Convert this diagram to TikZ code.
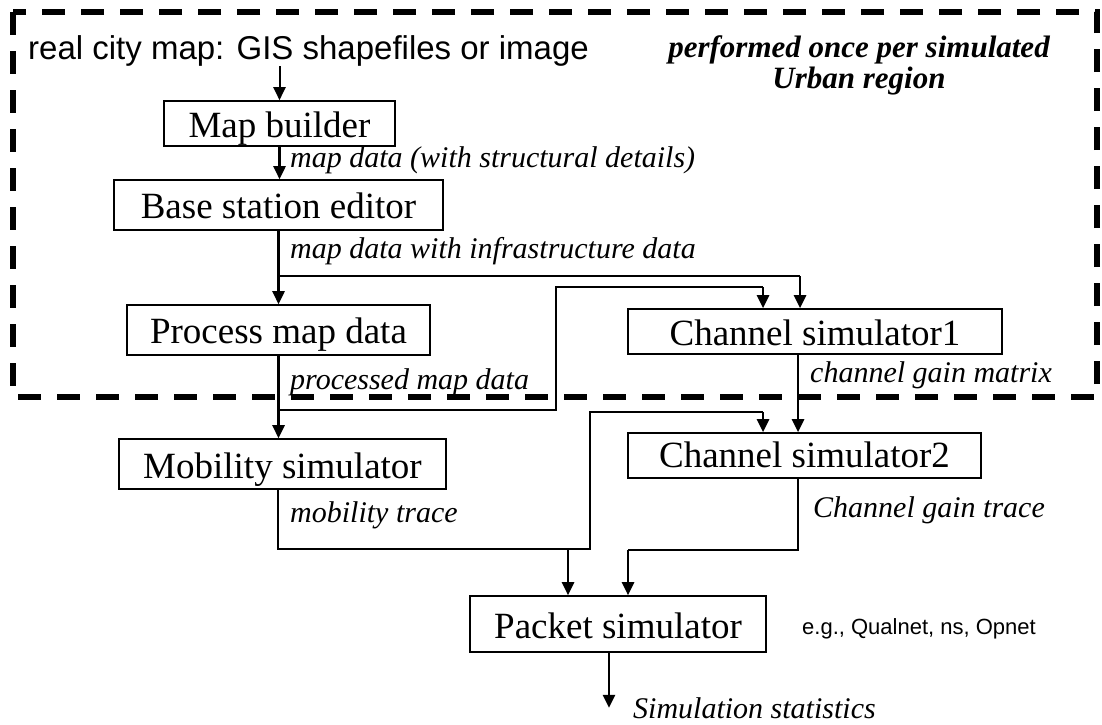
\documentclass[tikz,border=0pt]{standalone}
\usepackage{fontspec}
\setmainfont{Liberation Serif}
\newfontfamily\arialfont{Liberation Sans}
\usetikzlibrary{positioning,arrows.meta}

\begin{document}
\begin{tikzpicture}[
    x=1pt, y=-1pt,
    box/.style={draw, line width=1.6pt, inner sep=0pt, font=\fontsize{37}{40}\selectfont},
    lbl/.style={anchor=base west, inner sep=0pt, font=\fontsize{30}{32}\selectfont\itshape},
    flow/.style={-{Triangle[length=13pt,width=12pt]}, line width=2.6pt},
    feed/.style={line width=1.3pt},
    region/.style={line width=6pt, dash pattern=on 23pt off 16pt}
]
    \useasboundingbox (0,0) rectangle (1102,724);

    % Region done once per city
    \draw[region] (13,12) rectangle (1097,397);
    \node[anchor=base, inner sep=0pt, align=center, font=\fontsize{31}{31}\selectfont\bfseries\itshape] (once) at (859,88) {performed once per simulated\\Urban region};

    % Input
    \node[anchor=base west, inner sep=0pt, font=\arialfont\fontsize{33}{36}\selectfont] (city) at (28,59) {real city map: GIS shapefiles or image};

    % Boxes
    \node[box, minimum width=231pt, minimum height=45pt, text height=36pt, text depth=9pt] (mapb) at (279.5,123.5) {Map builder};
    \node[box, minimum width=329pt, minimum height=50pt, text height=38pt, text depth=12pt] (base) at (278.5,205) {Base station editor};
    \node[box, minimum width=303pt, minimum height=50pt, text height=38pt, text depth=12pt] (proc) at (278.5,330) {Process map data};
    \node[box, minimum width=327pt, minimum height=50pt, text height=39pt, text depth=11pt] (mob) at (282.5,464) {Mobility simulator};
    \node[box, minimum width=374pt, minimum height=45pt, text height=36pt, text depth=9pt] (ch1) at (815,331.5) {Channel simulator1};
    \node[box, minimum width=353pt, minimum height=45pt, text height=34pt, text depth=11pt] (ch2) at (804.5,455.5) {Channel simulator2};
    \node[box, minimum width=296pt, minimum height=56pt, text height=42pt, text depth=14pt] (pkt) at (618,624) {Packet simulator};
    \node[anchor=base west, inner sep=0pt, font=\arialfont\fontsize{22}{24}\selectfont] (eg) at (802,634) {e.g., Qualnet, ns, Opnet};

    % Data labels
    \node[lbl] (l1) at (290,167) {map data (with structural details)};
    \node[lbl] (l2) at (290,258) {map data with infrastructure data};
    \node[lbl] (l3) at (290,389) {processed map data};
    \node[lbl] (l4) at (810,382) {channel gain matrix};
    \node[lbl] (l5) at (290,522) {mobility trace};
    \node[lbl] (l6) at (813,517) {Channel gain trace};
    \node[lbl] (l7) at (633,718) {Simulation statistics};

    % Main chain
    \draw[flow, line width=2pt] (mapb.north |- city.south) -- (mapb.north);
    \draw[flow] (mapb.south) -- (mapb.south |- base.north);
    \draw[flow] (base.south) -- (base.south |- proc.north);
    \draw[flow] (proc.south) -- (proc.south |- mob.north);
    \draw[flow] ([xshift=-17pt]ch1.south) -- ([xshift=-17pt]ch1.south |- ch2.north);
    \draw[flow] ([xshift=-9pt]pkt.south) -- ++(0,55) coordinate (out);

    % Branches into channel simulator1
    \coordinate (j1) at (279,276);
    \coordinate (j2) at (277,410);
    \draw[feed] (j1) -- (800,276) coordinate (c1a);
    \draw[flow] (c1a) -- (c1a |- ch1.north);
    \draw[feed] (j2) -- (556,410) -- (556,287) -- (763,287) coordinate (c1b);
    \draw[flow] (c1b) -- (c1b |- ch1.north);

    % Mobility trace
    \draw[feed] ([xshift=-4.5pt]mob.south) |- (590,549) -- (590,412) -- (763,412) coordinate (c2a);
    \draw[flow] (c2a) -- (c2a |- ch2.north);
    \coordinate (m1) at (568,549);
    \draw[flow] (m1) -- (m1 |- pkt.north);

    % Channel gain trace
    \draw[feed] ([xshift=-6.5pt]ch2.south) |- (628,550) coordinate (m2);
    \draw[flow] (m2) -- (m2 |- pkt.north);

\end{tikzpicture}
\end{document}
